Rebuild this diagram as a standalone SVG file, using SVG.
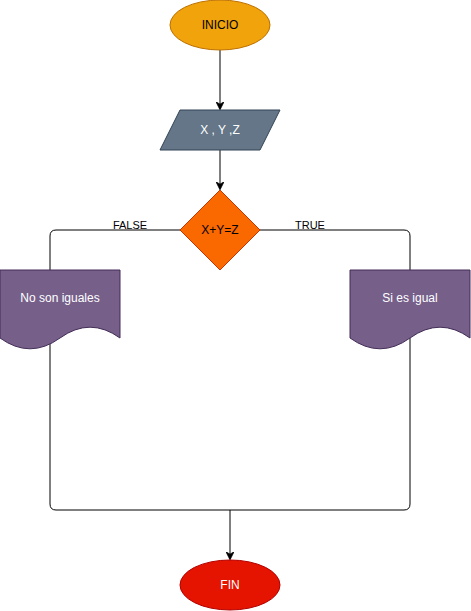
<svg xmlns="http://www.w3.org/2000/svg" width="471" height="611" viewBox="0 0 471 611">
<defs>
<style>
.t{font-family:"Liberation Sans",Arial,sans-serif;font-size:12px;text-anchor:middle;dominant-baseline:central}
.w{fill:#ffffff}
.k{fill:#000000}
.lbl{font-family:"Liberation Sans",Arial,sans-serif;font-size:11px;text-anchor:middle;fill:#000000}
.e{fill:none;stroke:#000000;stroke-width:1}
.doc{fill:#76608a;stroke:#432d57;stroke-width:1}
</style>
<marker id="arr" viewBox="0 0 10 10" refX="9" refY="5" markerWidth="8" markerHeight="8" markerUnits="userSpaceOnUse" orient="auto">
<path d="M0,0 L10,5 L0,10 L3,5 Z" fill="#000000" stroke="#000000" stroke-width="1"/>
</marker>
</defs>
<rect width="471" height="611" fill="#ffffff"/>
<g id="connectors">
<path class="e" d="M220,50 L220,109" marker-end="url(#arr)"/>
<path class="e" d="M220,150 L220,189" marker-end="url(#arr)"/>
<path class="e" d="M180,230 L56,230 Q50,230 50,236 L50,270"/>
<path class="e" d="M260,230 L404,230 Q410,230 410,236 L410,270"/>
<path class="e" d="M50,344 L50,504 Q50,510 56,510 L404,510 Q410,510 410,504 L410,338"/>
<path class="e" d="M230,510 L230,559" marker-end="url(#arr)"/>
<text class="lbl" x="130" y="229">FALSE</text>
<text class="lbl" x="310" y="229">TRUE</text>
</g>
<g id="inicio">
<ellipse cx="220" cy="25" rx="50" ry="25" fill="#f0a30a" stroke="#bd7000"/>
<text class="t k" x="220" y="25">INICIO</text>
</g>
<g id="entrada">
<polygon points="180,110 280,110 260,150 160,150" fill="#647687" stroke="#314354"/>
<text class="t w" x="220" y="130">X , Y ,Z</text>
</g>
<g id="decision">
<polygon points="220,190 260,230 220,270 180,230" fill="#fa6800" stroke="#c73500"/>
<text class="t k" x="220" y="230">X+Y=Z</text>
</g>
<g id="no-iguales">
<path class="doc" d="M0,270 L120,270 L120,338 Q90,316.4 60,338 Q30,359.6 0,338 Z"/>
<text class="t w" x="60" y="298">No son iguales</text>
</g>
<g id="si-igual">
<path class="doc" d="M350,270 L470,270 L470,338 Q440,316.4 410,338 Q380,359.6 350,338 Z"/>
<text class="t w" x="410" y="298">Si es igual</text>
</g>
<g id="fin">
<ellipse cx="230" cy="585" rx="50" ry="25" fill="#e51400" stroke="#b20000"/>
<text class="t w" x="230" y="585">FIN</text>
</g>
</svg>
